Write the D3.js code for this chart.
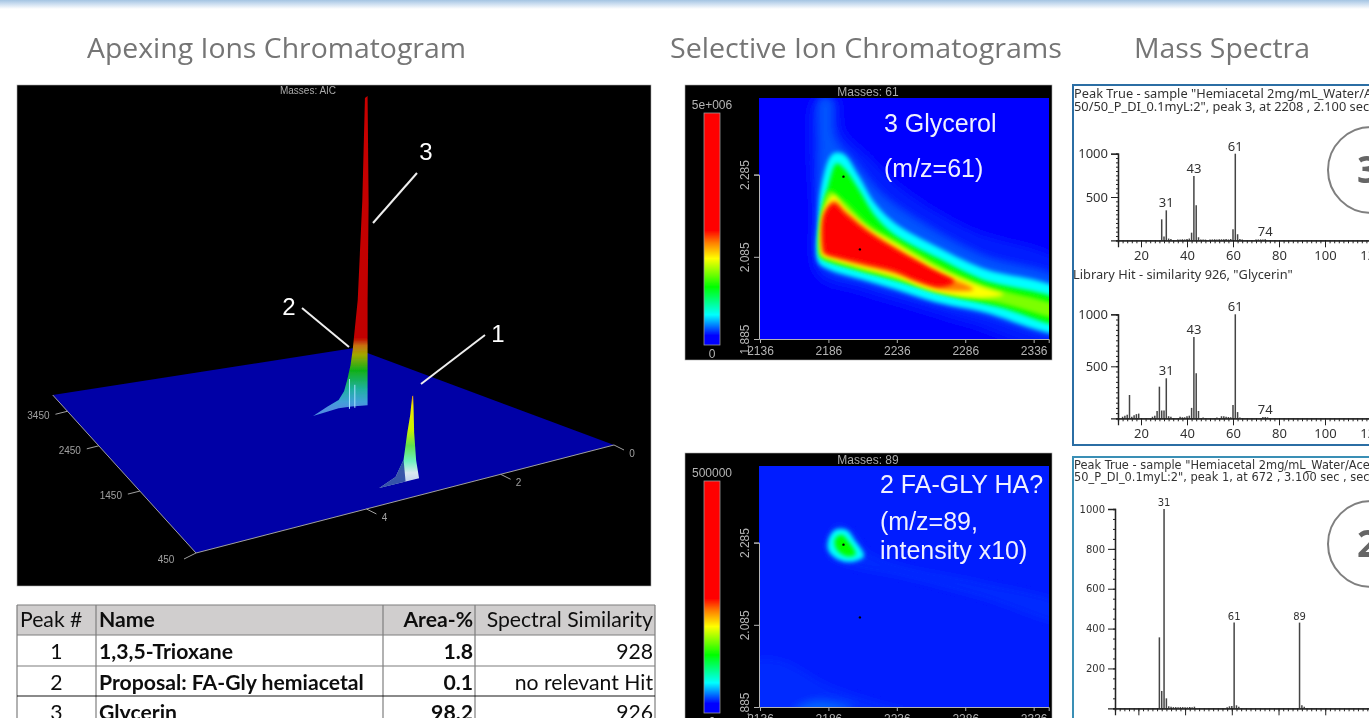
<!DOCTYPE html>
<html>
<head>
<meta charset="utf-8">
<title>Apexing ions, selective ion chromatograms and mass spectra</title>
<script src="https://cdn.jsdelivr.net/npm/d3@7"></script>
<style>
  html, body { margin: 0; padding: 0; background: #fff; overflow: hidden; }
  svg { display: block; }
</style>
</head>
<body>
<div id="chart"></div>
<script>
// ---- data ----
const titles = ["Apexing Ions Chromatogram", "Selective Ion Chromatograms", "Mass Spectra"];

// peak table
const tableHeader = ["Peak #", "Name", "Area-%", "Spectral Similarity"];
const peakNumbers = ["1", "2", "3"];
const peakNames = ["1,3,5-Trioxane", "Proposal:  FA-Gly hemiacetal", "Glycerin"];
const areaPercent = ["1.8", "0.1", "98.2"];
const similarity = ["928", "no relevant Hit", "926"];

// 3D apexing ion plot: rt1 in s, rt2 in s, intensity in % of the largest peak
const rt1Ticks = [450, 1450, 2450, 3450];
const rt2Ticks = [0, 2, 4];
const peak1Pos = [678, 3.05];
const peak3Pos = [2208, 2.1];
const peak1LeftOffset = [0.49, 0.25, 0.13, 0.075, 0.03, 0];
const peak1LeftIntensity = [0, 2.3, 7.2, 15.5, 21, 27];
const peak1RightOffset = [-0.105, -0.06, -0.03, -0.022, -0.015];
const peak1RightIntensity = [0, 6, 15, 22.4, 27];
const peak3LeftOffset = [0.76, 0.5, 0.3, 0.2, 0.14, 0.08, 0.04, -0.054, -0.14, -0.19];
const peak3LeftIntensity = [0, 2.1, 3.5, 6, 9.6, 14, 18.8, 34.5, 66, 99];
const peak3RightOffset = [0.3, 0.06, -0.24, -0.24, -0.24, -0.26, -0.24];
const peak3RightIntensity = [0.9, 0.6, 0, 17.7, 33, 65, 99.5];
const peak3RidgeOffset = [0.1, 0];
const peak3RidgeIntensity = [9.6, 7.4];

// selective ion contour levels: [rt1, rt2] outlines, level = fraction of the colour bar
const glycerolLevels = [0.05, 0.07, 0.13, 0.25, 0.31, 0.373, 0.44, 0.5];
const glycerolOutlines = [
  [[2176, 2.47], [2192, 2.47], [2197, 2.39], [2215, 2.33], [2240, 2.25], [2290, 2.15], [2360, 2.06], [2360, 1.86], [2290, 1.92], [2250, 1.96], [2210, 2.0], [2178, 2.04], [2174, 2.2]],
  [[2180, 2.47], [2188, 2.47], [2191, 2.377], [2205, 2.32], [2225, 2.239], [2254, 2.17], [2298, 2.09], [2360, 2.02], [2360, 1.9], [2298, 1.947], [2254, 1.985], [2215, 2.022], [2181, 2.065], [2178, 2.19], [2178.5, 2.352]],
  [[2178.5, 2.072], [2178.5, 2.174], [2181, 2.26], [2189, 2.335], [2197, 2.335], [2208, 2.282], [2220, 2.215], [2235, 2.166], [2265, 2.11], [2298, 2.058], [2360, 1.995], [2360, 1.902], [2298, 1.952], [2264, 1.975], [2235, 2.006], [2208, 2.032], [2186, 2.055]],
  [[2180, 2.085], [2181, 2.19], [2186, 2.26], [2192, 2.312], [2198, 2.298], [2208, 2.25], [2220, 2.185], [2235, 2.137], [2267, 2.08], [2298, 2.03], [2360, 1.97], [2360, 1.92], [2311, 1.963], [2274, 1.99], [2235, 2.028], [2208, 2.052], [2183, 2.078]],
  [[2180.5, 2.087], [2181, 2.19], [2187, 2.245], [2196, 2.225], [2215, 2.165], [2235, 2.125], [2267, 2.065], [2298, 2.018], [2360, 1.955], [2360, 1.935], [2311, 1.972], [2274, 1.995], [2235, 2.032], [2208, 2.055], [2183, 2.08]],
  [[2181, 2.089], [2182, 2.19], [2189.4, 2.235], [2198, 2.205], [2215, 2.155], [2235, 2.117], [2269, 2.052], [2298, 2.012], [2314, 1.993], [2298, 1.985], [2264, 2.0], [2235, 2.036], [2208, 2.06], [2183, 2.085]],
  [[2182, 2.093], [2182.5, 2.19], [2190, 2.222], [2198, 2.198], [2215, 2.15], [2235, 2.107], [2264, 2.05], [2292, 2.006], [2270, 2.004], [2254, 2.02], [2235, 2.044], [2208, 2.066], [2184, 2.09]],
  [[2183, 2.097], [2183, 2.186], [2190, 2.214], [2198, 2.19], [2215, 2.145], [2237, 2.1], [2260, 2.058], [2278, 2.024], [2268, 2.012], [2250, 2.028], [2235, 2.05], [2208, 2.072], [2184, 2.093]]
];
const glycerolApexes = [[2197, 2.28], [2209, 2.103]];

const hemiacetalLevels = [0.055, 0.055, 0.075, 0.13, 0.25];
const hemiacetalOutlines = [
  [[2184, 2.29], [2192, 2.33], [2203, 2.315], [2215, 2.262], [2240, 2.23], [2298, 2.19], [2360, 2.13], [2360, 2.09], [2298, 2.15], [2240, 2.2], [2200, 2.228], [2186, 2.25]],
  [[2130, 1.995], [2151, 2.0], [2185, 1.94], [2220, 1.9], [2245, 1.875], [2130, 1.875]],
  [[2175, 1.9], [2195, 1.895], [2205, 1.885], [2185, 1.87], [2160, 1.875]],
  [[2186, 2.292], [2191, 2.316], [2199.2, 2.316], [2205, 2.292], [2212, 2.252], [2202.9, 2.238], [2193.1, 2.244], [2186, 2.266]],
  [[2191.1, 2.295], [2195.6, 2.304], [2200.5, 2.288], [2205.9, 2.256], [2199.2, 2.252], [2193.1, 2.264], [2190.7, 2.28]]
];
const hemiacetalApexes = [[2197, 2.28], [2209, 2.103]];

const heatXTicks = [2136, 2186, 2236, 2286, 2336];
const heatYTicks = [1.885, 2.085, 2.285];

// mass spectra
const trueMz = [29, 30, 31, 32, 33, 36, 37, 38, 39, 40, 41, 42, 43, 44, 45, 46, 47, 48, 50, 51, 52, 53, 54, 55, 56, 57, 58, 59, 60, 61, 62, 63, 64, 70, 71, 72, 73, 74];
const trueIntensity = [242, 45, 346, 20, 15, 10, 10, 12, 10, 15, 20, 88, 742, 404, 35, 10, 8, 8, 10, 10, 12, 10, 12, 12, 12, 15, 10, 15, 127, 1000, 70, 15, 8, 8, 10, 10, 10, 12];
const trueLabels = [31, 43, 61, 74];

const libMz = [12, 13, 14, 15, 16, 17, 18, 19, 25, 26, 27, 28, 29, 30, 31, 32, 33, 37, 38, 39, 40, 41, 42, 43, 44, 45, 47, 53, 55, 56, 57, 58, 59, 60, 61, 62, 63, 73, 74, 75];
const libIntensity = [15, 25, 35, 224, 15, 30, 40, 45, 15, 25, 70, 304, 75, 75, 385, 20, 15, 15, 10, 10, 20, 25, 100, 782, 433, 70, 8, 8, 20, 20, 15, 12, 10, 128, 1000, 60, 8, 12, 12, 10];
const libLabels = [31, 43, 61, 74];

const hemiMz = [29, 30, 31, 32, 33, 34, 35, 36, 37, 38, 39, 40, 41, 42, 43, 44, 58, 59, 60, 61, 62, 63, 89, 90, 91];
const hemiIntensity = [356, 87, 1000, 50, 10, 8, 6, 6, 5, 6, 6, 5, 5, 6, 5, 8, 5, 10, 12, 430, 15, 8, 430, 15, 8];
const hemiLabels = [31, 61, 89];

// ---- page ----
const width = 1369;
const height = 718;
const svg = d3.select("#chart").append("svg").attr("width", width).attr("height", height);
const defs = svg.append("defs");

function blur(id, std) {
  defs.append("filter").attr("id", id).attr("filterUnits", "userSpaceOnUse")
    .attr("x", 0).attr("y", 0).attr("width", width).attr("height", 800)
    .append("feGaussianBlur").attr("stdDeviation", std);
}
blur("soft", 0.45);
blur("heat", 2);
blur("heatWide", 4.5);

const topGrad = defs.append("linearGradient").attr("id", "topBand").attr("x2", 0).attr("y2", 1);
topGrad.append("stop").attr("offset", 0).attr("stop-color", "#a4c4e2");
topGrad.append("stop").attr("offset", 0.35).attr("stop-color", "#c4d9ee");
topGrad.append("stop").attr("offset", 1).attr("stop-color", "#ffffff");
svg.append("rect").attr("width", width).attr("height", 9).attr("fill", "url(#topBand)");

const titleX = [87, 670, 1134];
const titleW = [379, 392, 176];
svg.append("g").attr("filter", "url(#soft)").selectAll("text").data(titles).join("text")
  .attr("x", (d, i) => titleX[i]).attr("y", 58)
  .attr("textLength", (d, i) => titleW[i]).attr("lengthAdjust", "spacingAndGlyphs")
  .attr("font-family", "'Open Sans', sans-serif").attr("font-size", 27)
  .attr("fill", "#757575").text(d => d);

// ---- 3D plot ----
const plateR = [614, 445], plateF = [196, 553], plateL = [52.7, 395], plateB = [354, 348];
const uScale = d3.scaleLinear().domain([0, 6.1]).range([0, 1]);
const vScale = d3.scaleLinear().domain([450, 4020]).range([0, 1]);
const zScale = d3.scaleLinear().domain([0, 100]).range([0, 311]);

// unit square to the four plate corners
const project = (() => {
  const [x0, y0] = plateR, [x1, y1] = plateF, [x2, y2] = plateL, [x3, y3] = plateB;
  const dx1 = x1 - x2, dx2 = x3 - x2, sx = x0 - x1 + x2 - x3;
  const dy1 = y1 - y2, dy2 = y3 - y2, sy = y0 - y1 + y2 - y3;
  const det = dx1 * dy2 - dx2 * dy1;
  const g = (sx * dy2 - dx2 * sy) / det;
  const h = (dx1 * sy - sx * dy1) / det;
  const a = x1 - x0 + g * x1, b = x3 - x0 + h * x3;
  const d = y1 - y0 + g * y1, e = y3 - y0 + h * y3;
  return (rt1, rt2, z = 0) => {
    const u = uScale(rt2), v = vScale(rt1);
    const w = g * u + h * v + 1;
    return [(a * u + b * v + x0) / w, (d * u + e * v + y0) / w - zScale(z)];
  };
})();

const p3d = svg.append("g").attr("filter", "url(#soft)");
p3d.append("rect").attr("x", 17).attr("y", 85).attr("width", 634).attr("height", 501)
  .attr("fill", "#000").attr("stroke", "#aaa").attr("stroke-width", 0.6);
p3d.append("text").attr("x", 308).attr("y", 94).attr("text-anchor", "middle")
  .attr("font-family", "'Liberation Sans', sans-serif").attr("font-size", 10).attr("fill", "#aaa")
  .text("Masses:  AIC");

p3d.append("polygon").attr("points", [plateR, plateF, plateL, plateB].join(" ")).attr("fill", "#0000a6");
p3d.append("path").attr("d", d3.line()([plateL, plateF, plateR]))
  .attr("fill", "none").attr("stroke", "#a0a0a0").attr("stroke-width", 1);

const tickG = p3d.append("g").attr("font-family", "'Liberation Sans', sans-serif")
  .attr("font-size", 10).attr("fill", "#a0a0a0").attr("text-anchor", "middle");
rt1Ticks.forEach(t => {
  const p = project(t, 6.1);
  tickG.append("line").attr("x1", p[0]).attr("y1", p[1]).attr("x2", p[0] - 12).attr("y2", p[1] + (t === 450 ? 6 : 3)).attr("stroke", "#a0a0a0");
  tickG.append("text").attr("x", p[0] - (t === 450 ? 30 : 29)).attr("y", p[1] + (t === 450 ? 10 : 8)).text(t);
});
rt2Ticks.forEach(t => {
  const p = project(450, t);
  tickG.append("line").attr("x1", p[0]).attr("y1", p[1]).attr("x2", p[0] + 10).attr("y2", p[1] + 5).attr("stroke", "#a0a0a0");
  tickG.append("text").attr("x", p[0] + 18).attr("y", p[1] + 12).text(t);
});

function peakPath(pos, leftOff, leftInt, rightOff, rightInt) {
  const left = leftOff.map((o, i) => project(pos[0], pos[1] + o, leftInt[i]));
  const right = rightOff.map((o, i) => project(pos[0], pos[1] + o, rightInt[i])).reverse();
  return d3.line()(left.concat(right)) + "Z";
}

function peakGradient(id, pos, domain, colours) {
  const colour = d3.scaleLinear().domain(domain).range(colours);
  const grad = defs.append("linearGradient").attr("id", id).attr("gradientUnits", "userSpaceOnUse")
    .attr("x1", 0).attr("x2", 0)
    .attr("y1", project(pos[0], pos[1], 0)[1]).attr("y2", project(pos[0], pos[1], 100)[1]);
  domain.forEach(v => {
    grad.append("stop").attr("offset", v / 100).attr("stop-color", colour(v));
  });
}
peakGradient("peak3Grad", peak3Pos,
  [0, 2, 6, 12, 17, 20, 22.5, 100],
  ["#5090e0", "#40a0d8", "#20b0a0", "#10b018", "#a0a800", "#c87010", "#c00000", "#c80000"]);
peakGradient("peak1Grad", peak1Pos,
  [0, 2.3, 6, 11, 16, 24, 27],
  ["#c8d8f0", "#d8e8f0", "#70f0c0", "#60e050", "#c8f000", "#f0e800", "#e09020"]);

p3d.append("path").attr("fill", "url(#peak3Grad)")
  .attr("d", peakPath(peak3Pos, peak3LeftOffset, peak3LeftIntensity, peak3RightOffset, peak3RightIntensity));
peak3RidgeOffset.forEach((o, i) => {
  const a = project(peak3Pos[0], peak3Pos[1] + o, 0), b = project(peak3Pos[0], peak3Pos[1] + o, peak3RidgeIntensity[i]);
  p3d.append("line").attr("x1", a[0]).attr("y1", a[1]).attr("x2", b[0]).attr("y2", b[1])
    .attr("stroke", "#a8e4ff").attr("stroke-width", 1);
});
p3d.append("path").attr("fill", "url(#peak1Grad)")
  .attr("d", peakPath(peak1Pos, peak1LeftOffset, peak1LeftIntensity, peak1RightOffset, peak1RightIntensity));
// darker left flank of peak 1
p3d.append("path").attr("fill", "#1c3c9c").attr("opacity", 0.85)
  .attr("d", peakPath(peak1Pos, peak1LeftOffset.slice(0, 3), peak1LeftIntensity.slice(0, 3), [0.1], [0]));

const callouts = [
  {label: "3", x1: 417, y1: 173, x2: 373, y2: 223, tx: 426, ty: 160},
  {label: "2", x1: 302, y1: 308, x2: 349, y2: 347, tx: 289, ty: 315},
  {label: "1", x1: 485, y1: 335, x2: 421, y2: 384, tx: 498, ty: 342}
];
const callG = p3d.selectAll("g.callout").data(callouts).join("g").attr("class", "callout");
callG.append("line").attr("x1", d => d.x1).attr("y1", d => d.y1).attr("x2", d => d.x2).attr("y2", d => d.y2)
  .attr("stroke", "#eee").attr("stroke-width", 2);
callG.append("text").attr("x", d => d.tx).attr("y", d => d.ty).attr("text-anchor", "middle")
  .attr("font-family", "'Liberation Sans', sans-serif").attr("font-size", 24).attr("fill", "#fff").text(d => d.label);

// ---- selective ion chromatograms ----
const barDomain = [0, 0.04, 0.13, 0.25, 0.373, 0.44, 0.495, 1];
const heatColor = d3.scaleLinear().domain(barDomain)
  .range(["#0000ff", "#0000ff", "#00ffff", "#00ff00", "#ffff00", "#ff8000", "#ff0000", "#ff0000"]);

const barGrad = defs.append("linearGradient").attr("id", "barGrad").attr("x1", 0).attr("x2", 0).attr("y1", 1).attr("y2", 0);
barDomain.forEach(v => barGrad.append("stop").attr("offset", v).attr("stop-color", heatColor(v)));

function heatPanel(id, top, mass, maxLabel, background, levels, outlines, apexes, notes) {
  const g = svg.append("g").attr("filter", "url(#soft)");
  const plotTop = top + 13, plotBottom = top + 254;
  g.append("rect").attr("x", 685).attr("y", top).attr("width", 367).attr("height", 275)
    .attr("fill", "#000").attr("stroke", "#aaa").attr("stroke-width", 0.6);
  g.append("text").attr("x", 868).attr("y", top + 11).attr("text-anchor", "middle")
    .attr("font-family", "'Liberation Sans', sans-serif").attr("font-size", 12).attr("fill", "#aaa")
    .text("Masses:  " + mass);

  const x = d3.scaleLinear().domain([2136, 2347]).range([760, 1048.7]);
  const y = d3.scaleLinear().domain([1.885, 2.285]).range([plotBottom, plotBottom - 164.4]);

  defs.append("clipPath").attr("id", id).append("rect")
    .attr("x", 759).attr("y", plotTop).attr("width", 290).attr("height", plotBottom - plotTop);
  const plot = g.append("g").attr("clip-path", `url(#${id})`);
  plot.append("rect").attr("x", 759).attr("y", plotTop).attr("width", 290).attr("height", plotBottom - plotTop).attr("fill", heatColor(background));
  const line = d3.line().x(d => x(d[0])).y(d => y(d[1])).curve(d3.curveCatmullRomClosed.alpha(0.5));
  outlines.forEach((o, i) => {
    plot.append("path").attr("d", line(o)).attr("fill", heatColor(levels[i]))
      .attr("filter", levels[i] < 0.1 ? "url(#heatWide)" : "url(#heat)");
  });
  plot.selectAll("circle").data(apexes).join("circle")
    .attr("cx", d => x(d[0])).attr("cy", d => y(d[1])).attr("r", 1.2).attr("fill", "#000");

  const xAxis = d3.axisBottom(x).tickValues(heatXTicks).tickSize(4).tickFormat(d3.format("d"));
  const yAxis = d3.axisLeft(y).tickValues(heatYTicks).tickSize(5).tickFormat(d3.format(".3f"));
  const xG = g.append("g").attr("transform", `translate(0,${plotBottom})`).call(xAxis);
  const yG = g.append("g").attr("transform", "translate(759,0)").call(yAxis);
  yG.selectAll("text").attr("transform", "rotate(-90)").attr("text-anchor", "middle").attr("x", 0).attr("dx", "0").attr("dy", 0)
    .attr("y", -10);
  [xG, yG].forEach(a => {
    a.attr("font-family", "'Liberation Sans', sans-serif").attr("font-size", 12);
    a.selectAll("text").attr("fill", "#b4b4b4");
    a.selectAll("line,path").attr("stroke", "#b4b4b4");
  });

  // colour bar
  g.append("rect").attr("x", 704).attr("y", top + 28).attr("width", 16).attr("height", 232)
    .attr("fill", "url(#barGrad)").attr("stroke", "#999").attr("stroke-width", 0.8);
  g.append("text").attr("x", 712).attr("y", top + 24).attr("text-anchor", "middle")
    .attr("font-family", "'Liberation Sans', sans-serif").attr("font-size", 12).attr("fill", "#b4b4b4").text(maxLabel);
  g.append("text").attr("x", 712).attr("y", top + 273).attr("text-anchor", "middle")
    .attr("font-family", "'Liberation Sans', sans-serif").attr("font-size", 12).attr("fill", "#b4b4b4").text("0");

  g.selectAll("text.note").data(notes).join("text").attr("class", "note")
    .attr("x", d => d.x).attr("y", d => d.y)
    .attr("font-family", "'Liberation Sans', sans-serif").attr("font-size", 25).attr("fill", "#f0f0ff").text(d => d.t);
}

heatPanel("clipGly", 85, "61", "5e+006", 0.04, glycerolLevels, glycerolOutlines, glycerolApexes,
  [{t: "3 Glycerol", x: 884, y: 132}, {t: "(m/z=61)", x: 884, y: 177}]);
heatPanel("clipHemi", 453, "89", "500000", 0.05, hemiacetalLevels, hemiacetalOutlines, hemiacetalApexes,
  [{t: "2 FA-GLY HA?", x: 880, y: 493}, {t: "(m/z=89,", x: 880, y: 530}, {t: "intensity x10)", x: 880, y: 559}]);

// ---- mass spectra ----
function spectrum(opts) {
  const g = svg.append("g").attr("filter", "url(#soft)").attr("font-family", opts.font);
  const x = d3.scaleLinear().domain([10, 130]).range([opts.left, opts.left + opts.pxPerMz * 120]);
  const y = d3.scaleLinear().domain([0, 1000]).range([opts.base, opts.top]);

  g.selectAll("line.bar").data(opts.mz).join("line").attr("class", "bar")
    .attr("x1", d => x(d)).attr("x2", d => x(d))
    .attr("y1", opts.base).attr("y2", (d, i) => y(opts.intensity[i]))
    .attr("stroke", "#444").attr("stroke-width", 1.5);

  g.selectAll("text.mz").data(opts.labels).join("text").attr("class", "mz")
    .attr("x", d => x(d)).attr("y", d => y(opts.intensity[opts.mz.indexOf(d)]) - 3)
    .attr("text-anchor", "middle").attr("font-size", opts.labelSize).attr("fill", "#333").text(d => d);

  const minorX = d3.range(10, 131, 2);
  const minorY = d3.range(0, 1001, 50);
  const ax = g.append("g").attr("transform", `translate(0,${opts.base})`);
  ax.call(d3.axisBottom(x).tickValues(minorX).tickSize(3).tickFormat(""));
  const major = d3.axisBottom(x).tickValues(d3.range(20, 121, 20)).tickSize(7);
  // the third spectrum has its labels below the edge of the page
  major.tickFormat(opts.xLabels ? d3.format("d") : "");
  ax.append("g").call(major);
  const ay = g.append("g").attr("transform", `translate(${opts.left},0)`);
  ay.call(d3.axisLeft(y).tickValues(minorY).tickSize(2).tickFormat(""));
  ay.append("g").call(d3.axisLeft(y).tickValues(opts.yTicks).tickSize(7).tickFormat(d3.format("d")));
  [ax, ay].forEach(a => {
    a.selectAll(".domain").attr("stroke", "#222").attr("stroke-width", 1.3);
    a.selectAll("line").attr("stroke", "#222");
    a.selectAll("text").attr("fill", "#333").attr("font-size", opts.tickSize).attr("font-family", opts.font);
  });
}

svg.append("rect").attr("x", 1073).attr("y", 85).attr("width", 400).attr("height", 360)
  .attr("fill", "#fff").attr("stroke", "#2b6ea4").attr("stroke-width", 2);
svg.append("rect").attr("x", 1073).attr("y", 457).attr("width", 400).attr("height", 400)
  .attr("fill", "#fff").attr("stroke", "#3a8fb5").attr("stroke-width", 2);

const tahoma = "'Noto Sans', 'DejaVu Sans', sans-serif";
const verdana = "'DejaVu Sans', sans-serif";
const headers = [
  {t: "Peak True - sample \"Hemiacetal 2mg/mL_Water/Acetonitrile", x: 1074, y: 98, f: tahoma, s: 12.8},
  {t: "50/50_P_DI_0.1myL:2\", peak 3, at 2208 , 2.100 sec", x: 1074, y: 111, f: tahoma, s: 12.8},
  {t: "Library Hit - similarity 926, \"Glycerin\"", x: 1073, y: 279, f: tahoma, s: 12.8},
  {t: "Peak True - sample \"Hemiacetal 2mg/mL_Water/Acetonitrile", x: 1074, y: 469, f: verdana, s: 11.4},
  {t: "50_P_DI_0.1myL:2\", peak 1, at 672 , 3.100 sec , sec", x: 1074, y: 481, f: verdana, s: 11.4}
];
svg.append("g").attr("filter", "url(#soft)").selectAll("text").data(headers).join("text")
  .attr("x", d => d.x).attr("y", d => d.y).attr("font-family", d => d.f).attr("font-size", d => d.s)
  .attr("fill", "#333").text(d => d.t);

spectrum({left: 1118, pxPerMz: 2.3, base: 240.3, top: 153.7, mz: trueMz, intensity: trueIntensity, labels: trueLabels,
  yTicks: [500, 1000], font: tahoma, labelSize: 13, tickSize: 13, xLabels: true});
spectrum({left: 1118, pxPerMz: 2.3, base: 418.3, top: 314.3, mz: libMz, intensity: libIntensity, labels: libLabels,
  yTicks: [500, 1000], font: tahoma, labelSize: 13, tickSize: 13, xLabels: true});
spectrum({left: 1115, pxPerMz: 2.336, base: 708.3, top: 509, mz: hemiMz, intensity: hemiIntensity, labels: hemiLabels,
  yTicks: [200, 400, 600, 800, 1000], font: verdana, labelSize: 10, tickSize: 10, xLabels: false});

const circles = [{cy: 170, r: 43, label: "3"}, {cy: 544, r: 43, label: "2"}];
const circleG = svg.append("g").attr("filter", "url(#soft)").selectAll("g").data(circles).join("g");
circleG.append("circle").attr("cx", 1371).attr("cy", d => d.cy).attr("r", d => d.r)
  .attr("fill", "#fff").attr("stroke", "#7f7f7f").attr("stroke-width", 2);
circleG.append("text").attr("x", 1357).attr("y", d => d.cy + 13)
  .attr("font-family", "'Open Sans', sans-serif").attr("font-weight", 700).attr("font-size", 37)
  .attr("fill", "#666").text(d => d.label);

// ---- peak table ----
const colX = [17, 96, 383, 475, 655];
const rowY = [605, 635, 666, 696, 727];
const table = svg.append("g").attr("filter", "url(#soft)").attr("font-family", "Lato, sans-serif").attr("font-size", 21.2).attr("fill", "#111");
table.append("rect").attr("x", colX[0]).attr("y", rowY[0]).attr("width", colX[4] - colX[0]).attr("height", rowY[1] - rowY[0]).attr("fill", "#d0cece");

const rows = [tableHeader].concat(peakNumbers.map((n, i) => [n, peakNames[i], areaPercent[i], similarity[i]]));
const baselines = [627, 659, 690, 720];
rows.forEach((row, r) => {
  const cell = table.append("g");
  cell.append("text").attr("x", r === 0 ? colX[0] + 3 : (colX[0] + colX[1]) / 2).attr("y", baselines[r])
    .attr("text-anchor", r === 0 ? "start" : "middle").text(row[0]);
  cell.append("text").attr("x", colX[1] + 3).attr("y", baselines[r]).attr("font-weight", 700).text(row[1]);
  cell.append("text").attr("x", colX[3] - 2).attr("y", baselines[r]).attr("text-anchor", "end").attr("font-weight", 700).text(row[2]);
  cell.append("text").attr("x", colX[4] - 2).attr("y", baselines[r]).attr("text-anchor", "end").text(row[3]);
});
colX.forEach(cx => {
  table.append("line").attr("x1", cx).attr("x2", cx).attr("y1", rowY[0]).attr("y2", 727).attr("stroke", "#7f7f7f").attr("stroke-width", 1.2);
});
rowY.forEach((ry, i) => {
  table.append("line").attr("x1", colX[0]).attr("x2", colX[4]).attr("y1", ry).attr("y2", ry)
    .attr("stroke", i === 3 ? "#111" : "#7f7f7f").attr("stroke-width", 1.2);
});
</script>
</body>
</html>
